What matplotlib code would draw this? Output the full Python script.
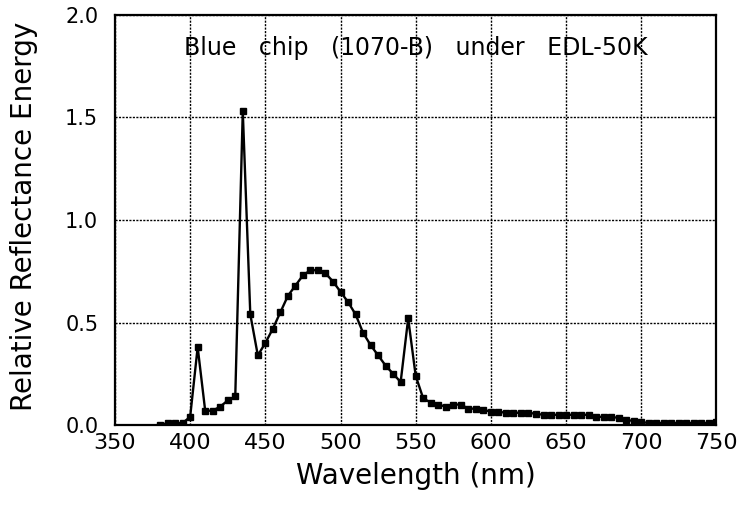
import numpy as np
import matplotlib.pyplot as plt

wavelength = np.arange(380, 755, 5)
energy = [0.00, 0.01, 0.01, 0.01, 0.04, 0.38, 0.07, 0.07, 0.09, 0.12,
          0.14, 1.53, 0.54, 0.34, 0.40, 0.47, 0.55, 0.63, 0.68, 0.73,
          0.755, 0.755, 0.74, 0.70, 0.65, 0.60, 0.54, 0.45, 0.39, 0.34,
          0.29, 0.25, 0.21, 0.52, 0.24, 0.13, 0.11, 0.10, 0.09, 0.10,
          0.10, 0.08, 0.08, 0.075, 0.065, 0.065, 0.06, 0.06, 0.06, 0.06,
          0.055, 0.05, 0.05, 0.05, 0.05, 0.05, 0.05, 0.05, 0.04, 0.04,
          0.04, 0.035, 0.025, 0.02, 0.015, 0.01, 0.01, 0.01, 0.01, 0.01,
          0.01, 0.01, 0.01, 0.01, 0.015]

xticks = [350, 400, 450, 500, 550, 600, 650, 700, 750]
yticks = [0.0, 0.5, 1.0, 1.5, 2.0]
title = "Blue   chip   (1070-B)   under   EDL-50K"

fig = plt.figure(figsize=(7.49, 5.14), dpi=100)
ax = fig.add_axes([0.1535, 0.173, 0.803, 0.798])

ax.plot(wavelength, energy, '-', color='black', lw=1.7,
        marker='s', markersize=4.5, markerfacecolor='black')

ax.set_xlim(350, 750)
ax.set_ylim(0, 2.0)
ax.set_xticks(xticks)
ax.set_yticks(yticks)
ax.set_yticklabels(['%.1f' % v for v in yticks])
ax.grid(True, color='black', linestyle=(0, (1.5, 1.0)), linewidth=1.0)
ax.tick_params(axis='y', length=0, labelsize=15, pad=12)
ax.tick_params(axis='x', length=0, labelsize=16, pad=6)
for s in ax.spines.values():
    s.set_linewidth(1.6)

ax.text(0.5, 0.92, title, transform=ax.transAxes, ha='center', va='center',
        fontsize=17)
ax.set_xlabel('Wavelength (nm)', fontsize=20, labelpad=6)
ax.set_ylabel('Relative Reflectance Energy', fontsize=20)
ax.yaxis.set_label_coords(-0.128, 0.51)

fig.savefig('out.png', dpi=100)
